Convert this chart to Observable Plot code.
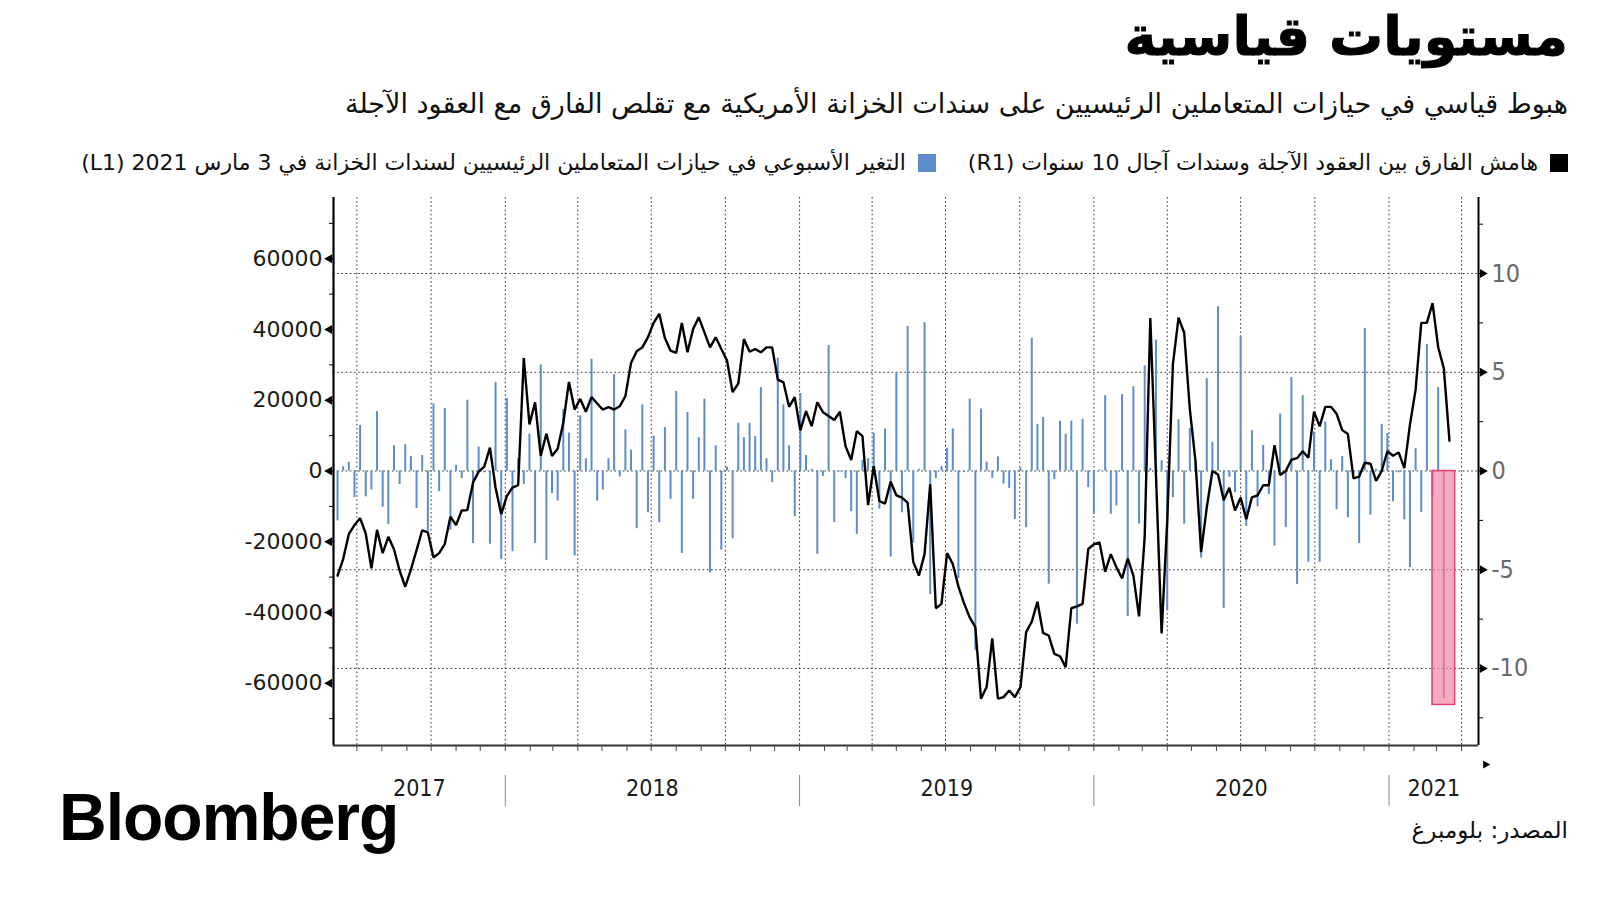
<!DOCTYPE html>
<html><head><meta charset="utf-8">
<script src="https://cdn.jsdelivr.net/npm/d3@7"></script>
<script src="https://cdn.jsdelivr.net/npm/@observablehq/plot@0.6"></script>
<style>
html,body{margin:0;padding:0;background:#fff;}
body{width:1600px;height:900px;position:relative;overflow:hidden;font-family:"DejaVu Sans",sans-serif;color:#111;}
.ar{direction:rtl;white-space:nowrap;position:absolute;}
#title{right:32px;top:7px;font-family:"DejaVu Sans";font-weight:bold;font-size:54px;line-height:1.1;color:#000;-webkit-text-stroke:1px #000;}
#subtitle{right:32px;top:88px;font-family:"DejaVu Sans";font-size:27px;line-height:1.2;color:#111;}
#legend{right:32px;top:150px;font-family:"DejaVu Sans";font-size:22px;line-height:1.2;display:flex;align-items:center;color:#111;}
#legend .sw{display:inline-block;width:18px;height:18px;margin-left:12px;}
#legend .item{display:flex;align-items:center;margin-left:32px;}
#chart{position:absolute;left:0;top:180px;}
#logo{position:absolute;left:59px;top:784px;font-family:"Liberation Sans",Arial,sans-serif;font-weight:bold;font-size:66px;letter-spacing:-1px;color:#000;line-height:1;}
#source{right:32px;top:817px;font-family:"DejaVu Sans";font-size:23px;line-height:1.2;color:#111;}
</style></head>
<body>
<div id="title" class="ar">مستويات قياسية</div>
<div id="subtitle" class="ar">هبوط قياسي في حيازات المتعاملين الرئيسيين على سندات الخزانة الأمريكية مع تقلص الفارق مع العقود الآجلة</div>
<div id="legend" class="ar"></div>
<div id="chart"></div>
<div id="logo">Bloomberg</div>
<div id="source" class="ar">المصدر: بلومبرغ</div>
<script>
// ---- data ----
const seriesNames = ["هامش الفارق بين العقود الآجلة وسندات آجال 10 سنوات (R1)", "التغير الأسبوعي في حيازات المتعاملين الرئيسيين لسندات الخزانة في 3 مارس 2021 (L1)"];
const seriesColors = ["#000000", "#5c8dc8"];
const firstWeek = "2017-06-07";
// weekly change in primary dealer Treasury holdings (left axis, L1)
const barValues = [
 -14100, 1200, 2500, -7500, 12900, -7300, -5400, 16800, -10200, -15100,
 7100, -3800, 7400, 4100, -10600, 4400, -17000, 19000, -5800, 17700,
 -16700, 1600, -2100, 20000, -20500, 6800, -500, -20700, 25000, -25000,
 20500, -22800, 3500, -3800, 10400, -20500, 30000, -25300, -6400, -8500,
 17400, 10700, -24000, 15600, 3500, 31600, -8500, -5400, 3500, 27200,
 -1700, 11600, 5900, -16300, 18700, -11800, 9900, -14600, 12300, -8000,
 22500, -23300, 16500, -8000, 9400, 20300, -28800, 7100, -22400, 1100,
 -19100, 13500, 9400, 13500, 9700, 23600, 3500, -3300, 31900, 18700,
 7100, -12900, 21900, 4400, 500, -23500, -1500, 35500, -14600, -300,
 -2100, -11500, -17900, 3000, 3500, 10700, -10800, 11900, -24300, 27600,
 -11800, 40900, -20400, 500, 41900, -34900, -2100, 1300, 6400, 11900,
 -30400, -450, 20300, -50800, 17500, 2500, -2100, 4000, -3700, -4900,
 -13700, 900, -16000, 37500, 13200, 15100, -32000, -2400, 14100, 10400,
 14100, -43300, 14600, -4700, -12300, 300, 21300, -12200, -9900, 21600,
 -41100, 23800, -15000, 29700, 700, 37000, 2900, -39500, -7500, 14500,
 -15000, 12000, 3000, -24600, 26100, 8100, 46400, -38800, -1800, -6100,
 38200, -15700, 11400, -10100, 7200, -6600, -21200, 16100, -16000, 26400,
 -32100, 21300, -25800, 11000, -25800, 13800, 3200, -11000, 4100, -13200,
 -1000, -20500, 40300, -12500, 500, 13200, 10600, -8700, -500, -13800,
 -27300, 6300, -11700, 35800, -7500, 23600, -64400];
// futures vs 10-year Treasury spread (right axis, R1)
const spreadValues = [
 -5.30, -4.46, -3.20, -2.74, -2.39, -3.17, -4.93, -2.98, -4.16, -3.33,
 -3.96, -5.05, -5.86, -5.00, -4.01, -3.00, -3.11, -4.38, -4.16, -3.70,
 -2.31, -2.74, -2.00, -1.98, -0.59, -0.03, 0.22, 1.18, -0.85, -2.19,
 -1.26, -0.84, -0.72, 5.72, 2.36, 3.48, 0.76, 1.89, 0.76, 1.13,
 2.44, 4.51, 3.11, 3.65, 3.00, 3.74, 3.42, 3.11, 3.23, 3.11,
 3.28, 3.79, 5.47, 6.06, 6.26, 6.78, 7.50, 7.96, 6.73, 6.09,
 5.98, 7.49, 6.01, 7.19, 7.78, 7.02, 6.26, 6.77, 6.18, 5.60,
 3.99, 4.43, 6.68, 6.04, 6.18, 6.01, 6.26, 6.26, 4.63, 4.49,
 3.25, 3.74, 2.05, 3.03, 2.27, 3.48, 2.98, 2.78, 2.58, 3.00,
 1.26, 0.56, 2.02, 1.77, -1.73, 0.25, -1.52, -1.65, -0.54, -1.23,
 -1.35, -1.60, -4.60, -5.30, -4.21, -0.67, -6.95, -6.73, -4.16, -4.71,
 -5.84, -6.70, -7.41, -7.91, -11.53, -10.94, -8.47, -11.53, -11.45, -11.11,
 -11.45, -10.94, -8.16, -7.63, -6.62, -8.20, -8.33, -9.26, -9.38, -9.93,
 -6.95, -6.85, -6.73, -3.96, -3.70, -3.62, -5.10, -4.21, -4.88, -5.44,
 -4.43, -5.30, -7.36, -3.35, 7.75, -0.20, -8.22, -2.50, 5.40, 7.77,
 7.00, 3.13, 0.50, -4.11, -1.85, 0.00, -0.18, -1.48, -0.85, -2.00,
 -1.35, -2.44, -1.33, -1.23, -0.72, -0.72, 1.31, -0.20, 0.00, 0.57,
 0.65, 1.00, 0.67, 3.01, 2.26, 3.25, 3.25, 2.90, 2.07, 1.87,
 -0.37, -0.28, 0.42, 0.37, -0.50, 0.00, 1.00, 0.77, 0.94, 0.15,
 2.35, 4.12, 7.50, 7.50, 8.50, 6.27, 5.20, 1.53];
const leftTicks = [60000, 40000, 20000, 0, -20000, -40000, -60000];
const leftMinorTicks = [70000, 50000, 30000, 10000, -10000, -30000, -50000, -70000];
const rightTicks = [10, 5, 0, -5, -10];
const rightMinorTicks = [12.5, 7.5, 2.5, -2.5, -7.5, -12.5];
const yearLabels = ["2017", "2018", "2019", "2020", "2021"];
const xDomainDates = ["2017-06-02", "2021-04-22"];
const leftDomain = [-77600, 77300];
const rightDomain = [-13.9, 13.85];

// ---- derived ----
const parse = d3.utcParse("%Y-%m-%d");
const x0 = parse(xDomainDates[0]), x1 = parse(xDomainDates[1]);
const start = parse(firstWeek);
const weekDate = i => d3.utcDay.offset(start, 7 * i);
const k = (rightDomain[1] - rightDomain[0]) / (leftDomain[1] - leftDomain[0]); // left units -> right units
const bars = barValues.map((v, i) => ({date: weekDate(i), v}));
const spread = spreadValues.map((v, i) => ({date: weekDate(i), v}));
const last = bars[bars.length - 1];
const quarters = d3.utcMonth.every(3).range(x0, x1);
const months = d3.utcMonth.range(x0, x1);
const yearStarts = d3.utcYear.range(d3.utcDay.offset(x0, 1), x1);
const years = yearLabels.map(label => {
  const a = d3.max([parse(label + "-01-01"), x0]);
  const b = d3.min([parse((+label + 1) + "-01-01"), x1]);
  return {label, date: new Date((+a + +b) / 2)};
});

// legend
const legend = document.getElementById("legend");
seriesNames.forEach((name, i) => {
  const it = document.createElement("span");
  it.className = "item";
  it.innerHTML = `<span class="sw" style="background:${seriesColors[i]}"></span><span>${name}</span>`;
  legend.appendChild(it);
});

const grid = {stroke: "#333", strokeOpacity: 1, strokeWidth: 1, strokeDasharray: "1.6,2.6"};
const chart = Plot.plot({
  width: 1600, height: 680,
  marginTop: 17, marginBottom: 115, marginLeft: 333, marginRight: 122,
  x: {type: "utc", domain: [x0, x1], axis: null},
  y: {domain: rightDomain, axis: null},
  style: {background: "transparent", fontFamily: "DejaVu Sans", overflow: "visible"},
  marks: [
    Plot.gridY(rightTicks, grid),
    Plot.gridX(quarters, grid),
    Plot.ruleX(bars, {x: "date", y1: 0, y2: d => d.v * k, stroke: seriesColors[1], strokeWidth: 2}),
    Plot.rect([last], {x1: d => d3.utcDay.offset(d.date, -14), x2: d => d3.utcDay.offset(d.date, 14),
      y1: 0, y2: d => d.v * 1.027 * k, fill: "#f5819f", fillOpacity: 0.68, stroke: "#e23d75", strokeWidth: 1.5}),
    Plot.line(spread, {x: "date", y: "v", stroke: seriesColors[0], strokeWidth: 2.4, strokeLinejoin: "miter"}),
    // axis lines
    Plot.ruleX([x0], {stroke: "#000", strokeWidth: 2.2}),
    Plot.ruleX([x1], {stroke: "#000", strokeWidth: 2}),
    Plot.ruleY([rightDomain[0]], {stroke: "#333", strokeWidth: 2}),
    // left axis (L1)
    Plot.axisY(leftTicks.map(v => v * k), {anchor: "left", label: null, tickSize: 7, tickPadding: 4, stroke: "#000",
      tickFormat: d => String(Math.round(d / k)), fontSize: 22, fill: "#1a1a1a", fontFamily: "DejaVu Sans"}),
    Plot.axisY(leftMinorTicks.map(v => v * k), {anchor: "left", label: null, tickSize: 4, tickFormat: () => "", stroke: "#000"}),
    Plot.dot(leftTicks, {x: () => x0, y: d => d * k, symbol: "triangle", rotate: -90, r: 3.4, fill: "#000", dx: -4}),
    // right axis (R1)
    Plot.axisY(rightTicks, {anchor: "right", label: null, tickSize: 8, tickPadding: 5, stroke: "#000",
      tickFormat: d => String(d), fontSize: 25, fill: "#6a6a6a", fontFamily: "DejaVu Sans Condensed"}),
    Plot.axisY(rightMinorTicks, {anchor: "right", label: null, tickSize: 4, tickFormat: () => "", stroke: "#000"}),
    Plot.dot(rightTicks, {x: () => x1, y: d => d, symbol: "triangle", rotate: 90, r: 3.4, fill: "#000", dx: 4}),
    // x axis
    Plot.axisX(months, {anchor: "bottom", label: null, tickSize: 6, tickFormat: () => "", stroke: "#444"}),
    Plot.axisX(yearStarts, {anchor: "bottom", label: null, tickSize: 31, dy: 30, tickFormat: () => "", stroke: "#888"}),
    Plot.text(years, {x: "date", text: "label", frameAnchor: "bottom", dy: 50, fontSize: 23, fill: "#1a1a1a", fontFamily: "DejaVu Sans Condensed"}),
    Plot.dot([0], {frameAnchor: "bottom-right", dx: 7, dy: 19, symbol: "triangle", rotate: 90, r: 3, fill: "#000"})
  ]
});
document.getElementById("chart").appendChild(chart);
</script>
</body></html>
